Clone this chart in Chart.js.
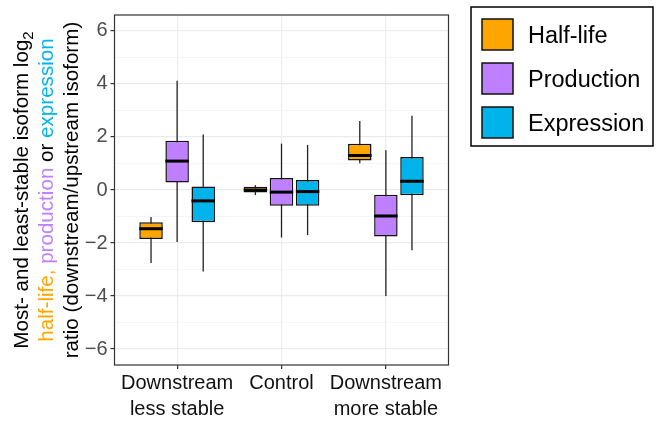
<!DOCTYPE html>
<html><head><meta charset="utf-8">
<script src="https://cdn.jsdelivr.net/npm/chart.js@4.4.1/dist/chart.umd.min.js"></script>
<style>html,body{margin:0;padding:0;background:#fff;overflow:hidden}</style>
</head><body>
<canvas id="c" width="659" height="422" style="width:659px;height:422px;display:block"></canvas>
<script>
// ---- data ----
const categories = [["Downstream","less stable"],["Control"],["Downstream","more stable"]];
const seriesNames = ["Half-life","Production","Expression"];
// five-number summaries per category: [lower whisker, Q1, median, Q3, upper whisker]
const halfLife   = [[-2.75,-1.85,-1.46,-1.22,-1.02],[-0.19,-0.09,0.00,0.12,0.18],[1.01,1.11,1.30,1.74,2.60]];
const production = [[-1.96,0.28,1.09,1.86,4.12],[-1.79,-0.59,-0.08,0.45,1.75],[-4.00,-1.75,-0.98,-0.18,1.50]];
const expression = [[-3.07,-1.22,-0.41,0.13,2.09],[-1.70,-0.59,-0.06,0.38,1.70],[-2.27,-0.20,0.33,1.24,2.80]];
const yTickValues = [-6,-5,-4,-3,-2,-1,0,1,2,3,4,5,6];

const seriesStats = [halfLife, production, expression];
const colors = ['#FFA500','#BF80FF','#00B4EB'];
const FONT = '"Liberation Sans", Arial, Helvetica, sans-serif';

const datasets = seriesStats.map((stats,d)=>({
  label: seriesNames[d],
  data: stats.map((s,i)=>({x:i+1, y:[s[1], s[3]]})),
  backgroundColor: colors[d],
  borderColor: '#111',
  borderWidth: 1.5,
  borderSkipped: false,
  categoryPercentage: 0.75,
  barPercentage: 0.9
}));

const boxParts = {
  id:'boxParts',
  beforeDatasetsDraw(chart){
    const ctx = chart.ctx, ys = chart.scales.y;
    ctx.save();
    ctx.strokeStyle = '#222'; ctx.lineWidth = 1.3;
    seriesStats.forEach((stats,d)=>{
      chart.getDatasetMeta(d).data.forEach((el,j)=>{
        const s = stats[j];
        ctx.beginPath();
        ctx.moveTo(el.x, ys.getPixelForValue(s[0]));
        ctx.lineTo(el.x, ys.getPixelForValue(s[4]));
        ctx.stroke();
      });
    });
    ctx.restore();
  },
  afterDatasetsDraw(chart){
    const ctx = chart.ctx, ys = chart.scales.y;
    ctx.save();
    ctx.strokeStyle = '#000'; ctx.lineWidth = 3;
    seriesStats.forEach((stats,d)=>{
      chart.getDatasetMeta(d).data.forEach((el,j)=>{
        const yy = ys.getPixelForValue(stats[j][2]);
        ctx.beginPath();
        ctx.moveTo(el.x - el.width/2, yy);
        ctx.lineTo(el.x + el.width/2, yy);
        ctx.stroke();
      });
    });
    ctx.restore();
  },
  afterDraw(chart){
    const ctx = chart.ctx, a = chart.chartArea;
    ctx.save();
    // panel border
    ctx.strokeStyle = '#333'; ctx.lineWidth = 1.2;
    ctx.strokeRect(a.left, a.top, a.right-a.left, a.bottom-a.top);
    // y axis title (multi-coloured, rotated)
    const lines = [
      [{t:'Most- and least-stable isoform log', c:'#000'},{t:'2', c:'#000', sub:true}],
      [{t:'half-life, ', c:colors[0]},{t:'production', c:colors[1]},{t:' or ', c:'#000'},{t:'expression', c:colors[2]}],
      [{t:'ratio (downstream/upstream isoform)', c:'#000'}]
    ];
    const baseX = [28, 53, 78];
    const cy = (a.top + a.bottom)/2;
    const big = '20.6px ', small = '15px ';
    lines.forEach((segs,li)=>{
      let total = 0;
      segs.forEach(s=>{ ctx.font = (s.sub?small:big) + FONT; s.w = ctx.measureText(s.t).width; total += s.w; });
      ctx.save();
      ctx.translate(baseX[li], cy);
      ctx.rotate(-Math.PI/2);
      ctx.textBaseline = 'alphabetic'; ctx.textAlign = 'left';
      let x = -total/2;
      segs.forEach(s=>{
        ctx.font = (s.sub?small:big) + FONT;
        ctx.fillStyle = s.c;
        ctx.fillText(s.t, x, s.sub ? 5 : 0);
        x += s.w;
      });
      ctx.restore();
    });
    // legend
    ctx.strokeStyle = '#000'; ctx.lineWidth = 1.5;
    ctx.strokeRect(471, 7, 182, 139);
    const keyY = [19, 63, 107];
    seriesNames.forEach((n,i)=>{
      ctx.fillStyle = colors[i];
      ctx.fillRect(482, keyY[i], 31, 31);
      ctx.strokeStyle = '#111'; ctx.lineWidth = 1.5;
      ctx.strokeRect(482, keyY[i], 31, 31);
      ctx.fillStyle = '#000';
      ctx.font = '23.5px ' + FONT;
      ctx.textBaseline = 'alphabetic'; ctx.textAlign = 'left';
      ctx.fillText(n, 528, keyY[i] + 15.5 + 8.5);
    });
    ctx.restore();
  }
};

const fmt = v => v < 0 ? '\u2212' + Math.abs(v) : String(v);

new Chart(document.getElementById('c'), {
  type: 'bar',
  data: { datasets },
  options: {
    responsive: false,
    animation: false,
    events: [],
    layout: { padding: { left: 0, right: 210.5, top: 9.3, bottom: 0 } },
    plugins: { legend: { display: false }, tooltip: { enabled: false }, title: { display: false } },
    scales: {
      x: {
        type: 'linear', min: 0.4, max: 3.6, offset: false,
        afterBuildTicks: s => { s.ticks = categories.map((c,i)=>({value:i+1})); },
        afterFit: s => { s.height = 57; },
        ticks: {
          autoSkip: false, maxRotation: 0, padding: 1,
          callback: v => categories[Math.round(v)-1] || '',
          font: { family: FONT, size: 20, lineHeight: '26px' },
          color: '#111'
        },
        grid: { offset: false, color: '#EBEBEB', lineWidth: 1.2, tickLength: 4, tickColor: '#333', tickWidth: 1.2 },
        border: { display: false }
      },
      y: {
        min: -6.6, max: 6.6,
        afterBuildTicks: s => { s.ticks = yTickValues.map(v=>({value:v})); },
        afterFit: s => { s.width = 114.5; },
        ticks: {
          autoSkip: false, padding: 3,
          callback: v => (Math.abs(v) % 2 === 0) ? fmt(v) : '',
          font: { family: FONT, size: 20 },
          color: '#4D4D4D'
        },
        grid: {
          color: c => (Math.abs(c.tick.value) % 2 === 0) ? '#EBEBEB' : '#F2F2F2',
          lineWidth: c => (Math.abs(c.tick.value) % 2 === 0) ? 1.2 : 0.8,
          tickLength: 4,
          tickColor: c => (Math.abs(c.tick.value) % 2 === 0) ? '#333' : 'rgba(0,0,0,0)',
          tickWidth: 1.2
        },
        border: { display: false }
      }
    }
  },
  plugins: [boxParts]
});
</script>
</body></html>
